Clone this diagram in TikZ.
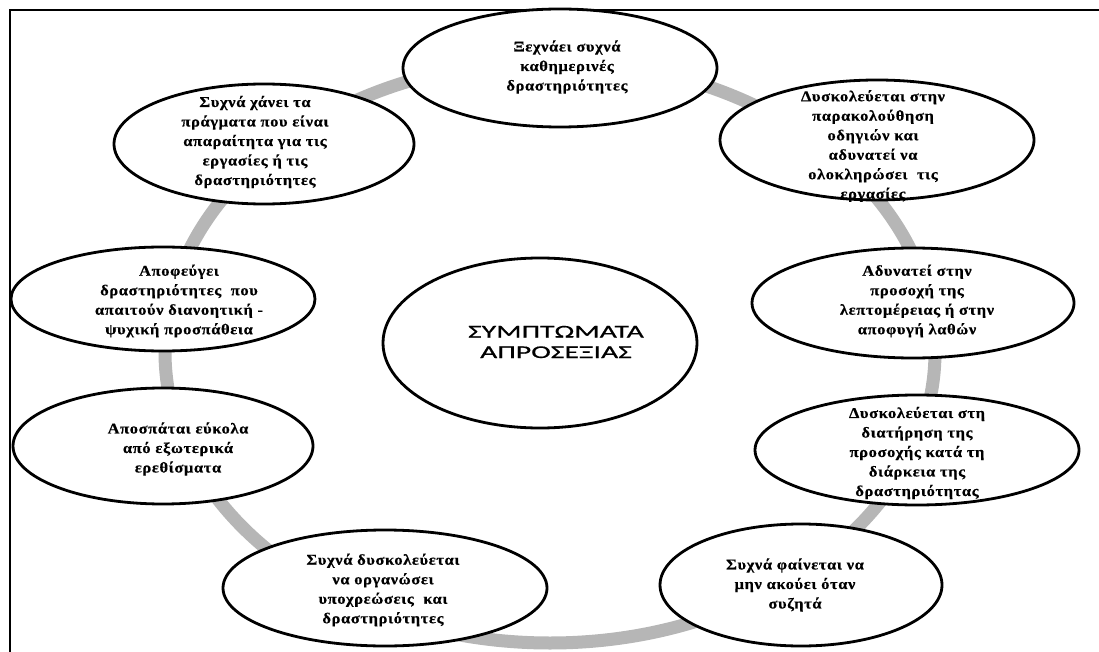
\documentclass[tikz,border=0pt]{standalone}
\usepackage{fontspec}
\usetikzlibrary{shapes.geometric}
\newfontfamily\grfont{Liberation Serif}[FakeStretch=1.1, LetterSpace=4,
  BoldFeatures={FakeBold=0.4}]
\newfontfamily\capfont{Carlito}[FakeStretch=1.65, FakeBold=0.6]
\definecolor{ringgray}{HTML}{B6B6B6}

% \symptom{name}{centre}{width}{height}{text position}{lines}
\newcommand\symptom[6]{%
  \node[bubble, minimum width=#3pt, minimum height=#4pt] (#1) at #2 {};
  \node[bubbletext] (#1-text) at #5 {#6};
}

\begin{document}
\begin{tikzpicture}[x=1pt, y=-1pt,
  ring/.style={draw=ringgray, line width=13pt},
  frameline/.style={draw=black, line width=2pt},
  bubble/.style={ellipse, draw=black, line width=2.8pt, fill=white, inner sep=0pt},
  bubbletext/.style={align=center, inner sep=0pt,
    font=\grfont\bfseries\fontsize{15pt}{19.5pt}\selectfont},
  hubtext/.style={align=center, inner sep=0pt,
    font=\capfont\fontsize{18pt}{20.5pt}\selectfont}]

\useasboundingbox (0,0) rectangle (1099,652);

% open frame: top and left edges
\coordinate (frame-tr) at (1099,10);
\coordinate (frame-tl) at (10,10);
\coordinate (frame-bl) at (10,652);
\draw[frameline] (frame-tr) -- (frame-tl) -- (frame-bl);

% grey ring linking the symptoms
\coordinate (ring-c) at (550,352);
\draw[ring] (ring-c) ellipse [x radius=385pt, y radius=291pt];

% central theme
\node[bubble, minimum width=314pt, minimum height=170pt] (hub) at (540,343) {};
\node[hubtext] (hub-text) at (556,342) {ΣΥΜΠΤΩΜΑΤΑ\\ΑΠΡΟΣΕΞΙΑΣ};

% symptoms around the ring
\symptom{s1}{(560,68)}{314}{118}{(567,67)}
  {Ξεχνάει συχνά\\καθημερινές\\δραστηριότητες}
\symptom{s2}{(877,140)}{314}{120}{(873,146)}
  {Δυσκολεύεται στην\\παρακολούθηση\\οδηγιών και\\αδυνατεί να\\ολοκληρώσει \ τις\\εργασίες}
\symptom{s3}{(913,303)}{322}{110}{(917,301)}
  {Αδυνατεί στην\\προσοχή της\\λεπτομέρειας ή στην\\αποφυγή λαθών}
\symptom{s4}{(917,450)}{324}{110}{(917,453)}
  {Δυσκολεύεται στη\\διατήρηση της\\προσοχής κατά τη\\διάρκεια της\\δραστηριότητας}
\symptom{s5}{(801,585)}{282}{122}{(795,585)}
  {Συχνά φαίνεται να\\μην ακούει όταν\\συζητά}
\symptom{s6}{(385,588)}{324}{116}{(383,590)}
  {Συχνά δυσκολεύεται\\να οργανώσει\\υποχρεώσεις \ και\\δραστηριότητες}
\symptom{s7}{(163,446)}{300}{116}{(178,449)}
  {Αποσπάται εύκολα\\από εξωτερικά\\ερεθίσματα}
\symptom{s8}{(163,299)}{304}{104}{(179,301)}
  {Αποφεύγει\\δραστηριότητες \ που\\απαιτούν διανοητική -\\ψυχική προσπάθεια}
\symptom{s9}{(264,144)}{300}{120}{(255,142)}
  {Συχνά χάνει τα\\πράγματα που είναι\\απαραίτητα για τις\\εργασίες ή τις\\δραστηριότητες}

\end{tikzpicture}
\end{document}
